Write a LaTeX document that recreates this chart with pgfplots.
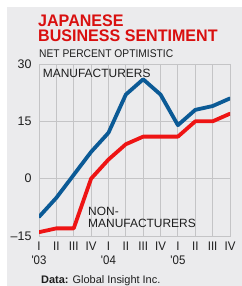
\documentclass[border=0pt]{standalone}
\usepackage{fontspec}
\setmainfont{Liberation Sans}
\newfontfamily\condfont[FakeStretch=0.92]{Liberation Sans}
\newfontfamily\titlefont[FakeStretch=0.96]{Liberation Sans}
\usepackage{pgfplots}
\pgfplotsset{compat=1.18}
\definecolor{bg}{HTML}{EBEBED}
\definecolor{mblue}{HTML}{0B5A96}
\definecolor{mred}{HTML}{EE1414}
\definecolor{tred}{HTML}{D90F0F}
\definecolor{gridc}{HTML}{C4C4C6}
\definecolor{txt}{HTML}{1E1E1E}
\begin{document}
\begin{tikzpicture}[x=1bp,y=1bp]
\path[use as bounding box] (0,0) rectangle (242,286);
\fill[bg] (7,0) rectangle (242,279);
\begin{axis}[
  at={(39bp,50bp)}, anchor=south west,
  scale only axis, width=191bp, height=172bp,
  xmin=0, xmax=11, ymin=-15, ymax=30,
  xtick={0,...,11},
  xticklabels={{I\\'03},II,III,IV,{I\\'04},II,III,IV,{I\\'05},II,III,IV},
  ytick={-15,0,15,30},
  yticklabels={–15,0,15,30},
  major tick length=0pt,
  grid=major,
  major grid style={draw=gridc, line width=0.9bp},
  axis line style={draw=gridc, line width=0.9bp},
  yticklabel style={font=\fontsize{12.5}{14}\selectfont, text=txt, xshift=-4bp},
  xticklabel style={font=\condfont\fontsize{12.5}{14}\selectfont, text=txt, align=center, yshift=-2bp},
]
\addplot[mblue, line width=3.8bp, line join=round, line cap=round] coordinates {
(0,-10) (1,-5) (2,1) (3,7) (4,12) (5,22) (6,26) (7,22) (8,14) (9,18) (10,19) (11,21)};
\addplot[mred, line width=3.8bp, line join=round, line cap=round] coordinates {
(0,-14) (1,-13) (2,-13) (3,0) (4,5) (5,9) (6,11) (7,11) (8,11) (9,15) (10,15) (11,17)};
\end{axis}
\node[anchor=south west, inner sep=0, align=left, text depth=0pt, text=tred, font=\titlefont\bfseries\fontsize{16.8}{15}\selectfont] at (38,244) {JAPANESE\\BUSINESS SENTIMENT};
\node[anchor=base west, inner sep=0, text=txt, font=\condfont\fontsize{11.2}{13}\selectfont] at (39,229) {NET PERCENT OPTIMISTIC};
\node[anchor=base west, inner sep=0, text=txt, font=\fontsize{12}{13}\selectfont] at (42.7,209) {MANUFACTURERS};
\node[anchor=base west, inner sep=0, text=txt, align=left, font=\fontsize{12}{13}\selectfont] at (88,58) {NON-\\MANUFACTURERS};
\node[anchor=base west, inner sep=0, text=txt, font=\fontsize{11}{13}\selectfont] at (41,3) {\textbf{Data:} Global Insight Inc.};
\end{tikzpicture}
\end{document}
